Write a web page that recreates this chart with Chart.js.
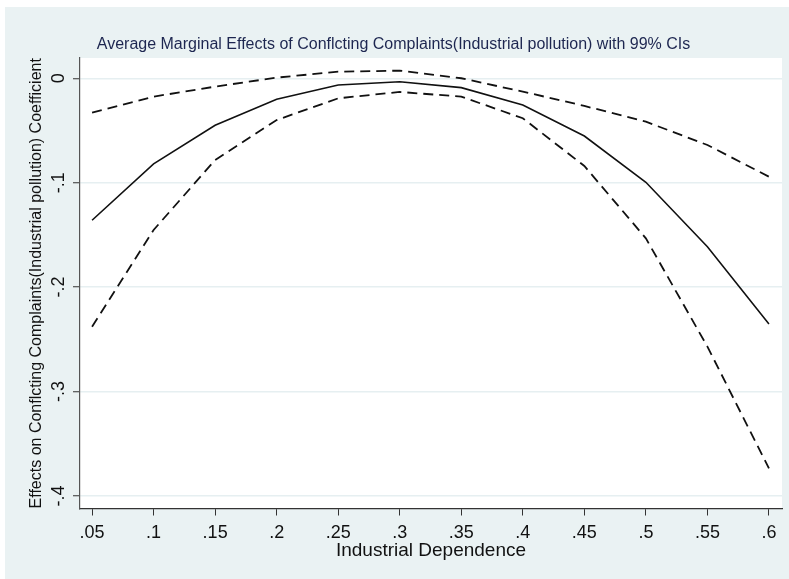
<!DOCTYPE html>
<html>
<head>
<meta charset="utf-8">
<script src="https://cdn.jsdelivr.net/npm/chart.js@4/dist/chart.umd.min.js"></script>
<style>
  html, body { margin: 0; padding: 0; background: #ffffff; }
  #wrap { position: absolute; left: 5px; top: 7px; width: 784px; height: 572px; background: #EAF2F3; }
</style>
</head>
<body>
<div id="wrap"><canvas id="ameChart" width="784" height="572"></canvas></div>
<script>
// Industrial dependence values (x axis)
const dependence = [0.05, 0.1, 0.15, 0.2, 0.25, 0.3, 0.35, 0.4, 0.45, 0.5, 0.55, 0.6];
const dependenceLabels = ['.05', '.1', '.15', '.2', '.25', '.3', '.35', '.4', '.45', '.5', '.55', '.6'];

// Average marginal effect and 99% CI bounds
const marginalEffect = [-0.136, -0.082, -0.045, -0.020, -0.0065, -0.0033, -0.009, -0.0256, -0.0553, -0.0996, -0.1613, -0.2353];
const upperCI = [-0.033, -0.0176, -0.008, 0.0006, 0.0063, 0.0073, 0.0, -0.0128, -0.0265, -0.0416, -0.0639, -0.0943];
const lowerCI = [-0.238, -0.1453, -0.0783, -0.040, -0.0192, -0.0131, -0.0176, -0.0383, -0.084, -0.1533, -0.257, -0.3736];

// Y axis ticks
const effectTicks = [0, -0.1, -0.2, -0.3, -0.4];
const effectLabels = ['0', '-.1', '-.2', '-.3', '-.4'];

const toPoints = arr => arr.map((v, i) => ({ x: dependence[i], y: v }));

const fontFamily = '"Liberation Sans", Arial, sans-serif';

// white plot region behind the lines
const plotBackground = {
    id: 'plotBackground',
    beforeDraw(chart) {
        const { ctx, chartArea } = chart;
        ctx.save();
        ctx.fillStyle = '#ffffff';
        ctx.fillRect(chartArea.left, chartArea.top, chartArea.right - chartArea.left, chartArea.bottom - chartArea.top);
        ctx.restore();
    }
};

new Chart(document.getElementById('ameChart'), {
    type: 'line',
    data: {
        datasets: [
            {
                label: 'Upper 99% CI',
                data: toPoints(upperCI),
                borderColor: '#111111',
                borderWidth: 1.8,
                borderDash: [10, 6],
                pointRadius: 0,
                tension: 0,
                fill: false
            },
            {
                label: 'Average marginal effect',
                data: toPoints(marginalEffect),
                borderColor: '#111111',
                borderWidth: 1.6,
                pointRadius: 0,
                tension: 0,
                fill: false
            },
            {
                label: 'Lower 99% CI',
                data: toPoints(lowerCI),
                borderColor: '#111111',
                borderWidth: 1.8,
                borderDash: [10, 6],
                pointRadius: 0,
                tension: 0,
                fill: false
            }
        ]
    },
    options: {
        responsive: false,
        animation: false,
        layout: {
            padding: { left: 0, right: 7, top: 0, bottom: 0 }
        },
        plugins: {
            legend: { display: false },
            tooltip: { enabled: false },
            title: {
                display: true,
                text: 'Average Marginal Effects of Conflcting Complaints(Industrial pollution) with 99% CIs',
                color: '#1d2650',
                font: { family: fontFamily, size: 16, weight: 'normal' },
                padding: { top: 28.4, bottom: 3.4 }
            }
        },
        scales: {
            x: {
                type: 'linear',
                min: 0.0402,
                max: 0.6106,
                afterBuildTicks: scale => {
                    scale.ticks = dependence.map(v => ({ value: v }));
                },
                afterFit: scale => { scale.height = 70.5; },
                grid: {
                    display: true,
                    drawOnChartArea: false,
                    drawTicks: true,
                    tickLength: 7,
                    tickColor: '#333333',
                    tickWidth: 1
                },
                border: { color: '#333333', width: 1.2 },
                ticks: {
                    color: '#111111',
                    font: { family: fontFamily, size: 18 },
                    padding: 6.5,
                    maxRotation: 0,
                    minRotation: 0,
                    callback: value => dependenceLabels[dependence.findIndex(d => Math.abs(d - value) < 1e-9)]
                },
                title: {
                    display: true,
                    text: 'Industrial Dependence',
                    color: '#111111',
                    font: { family: fontFamily, size: 19 },
                    padding: { top: 0, bottom: 16.6 }
                }
            },
            y: {
                type: 'linear',
                min: -0.412,
                max: 0.0194,
                afterBuildTicks: scale => {
                    scale.ticks = effectTicks.map(v => ({ value: v }));
                },
                afterFit: scale => { scale.width = 75; },
                grid: {
                    color: '#E6EFF1',
                    lineWidth: 1.5,
                    drawTicks: true,
                    tickLength: 7,
                    tickColor: '#333333',
                    tickWidth: 1
                },
                border: { color: '#555555', width: 1.2 },
                ticks: {
                    color: '#111111',
                    font: { family: fontFamily, size: 18 },
                    padding: 3,
                    minRotation: 90,
                    maxRotation: 90,
                    crossAlign: 'center',
                    callback: value => effectLabels[effectTicks.findIndex(t => Math.abs(t - value) < 1e-9)]
                },
                title: {
                    display: true,
                    text: 'Effects on Conflcting Complaints(Industrial pollution) Coefficient',
                    color: '#111111',
                    font: { family: fontFamily, size: 16 },
                    padding: { top: 22.4, bottom: 0 }
                }
            }
        }
    },
    plugins: [plotBackground]
});
</script>
</body>
</html>
